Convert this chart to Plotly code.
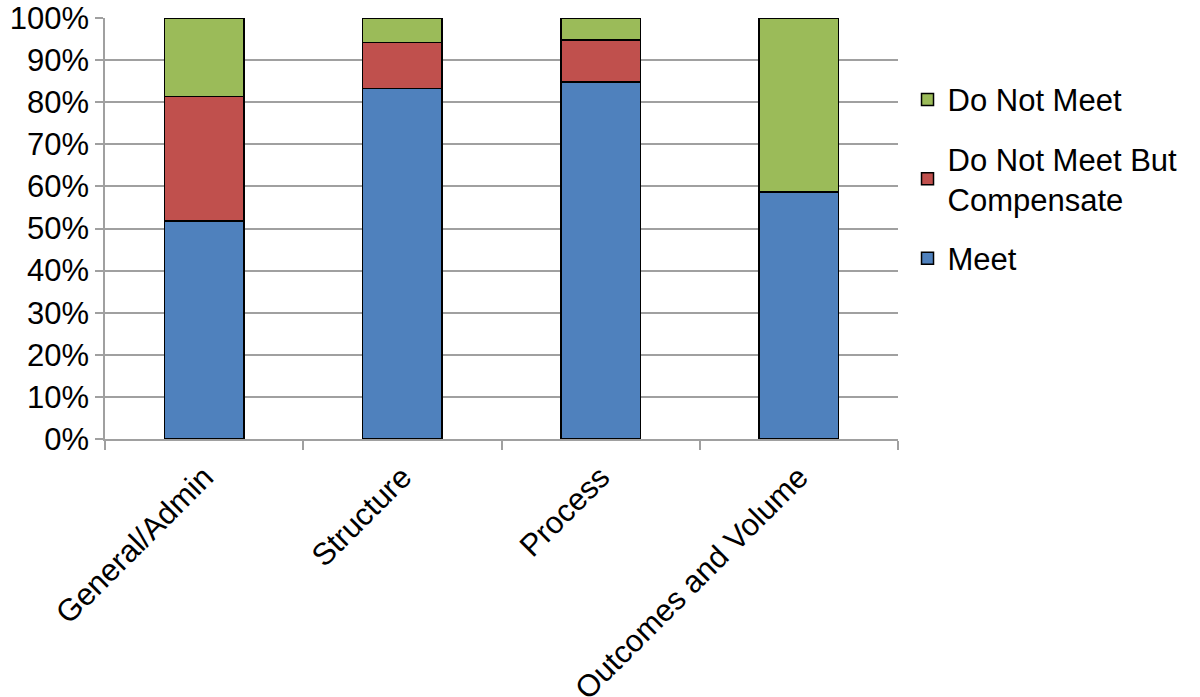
import plotly.graph_objects as go

categories = ["General/Admin", "Structure", "Process", "Outcomes and Volume"]
meet = [51.8, 83.2, 84.8, 58.7]
compensate = [29.5, 11.0, 10.0, 0.0]
do_not_meet = [18.7, 5.8, 5.2, 41.3]

series_names = ["Meet", "Do Not Meet But<br>Compensate", "Do Not Meet"]
colors = ["#4F81BD", "#C0504D", "#9BBB59"]
legend_ranks = [3, 2, 1]
y_ticks = list(range(0, 101, 10))

fig = go.Figure()
for i, (name, vals, col) in enumerate(zip(series_names, [meet, compensate, do_not_meet], colors)):
    fig.add_trace(go.Bar(
        x=categories, y=vals, name=name, legendgroup=f"g{i}", legendrank=legend_ranks[i],
        marker=dict(color=col, line=dict(color="black", width=1.5)),
        width=0.4,
    ))

fig.update_layout(
    barmode="stack",
    width=1200, height=697,
    margin=dict(l=105, r=302, t=18, b=258),
    plot_bgcolor="white", paper_bgcolor="white",
    font=dict(family="Liberation Sans, Arial, sans-serif", size=31, color="black"),
    legend=dict(traceorder="grouped", x=1.012, y=0.87, xanchor="left", yanchor="top",
                font=dict(size=31), tracegroupgap=16),
    bargap=0.6,
)
fig.update_yaxes(range=[0, 100], tickvals=y_ticks, ticktext=[f"{v}%" for v in y_ticks],
                 showgrid=True, gridcolor="#A0A0A0", gridwidth=1.5,
                 showline=True, linecolor="#A0A0A0", linewidth=1.5,
                 ticks="outside", ticklen=8, tickcolor="#A0A0A0", tickwidth=1.5,
                 zeroline=False, automargin=False)
fig.update_xaxes(tickangle=-45, showline=True, linecolor="#A0A0A0", linewidth=1.5,
                 ticks="outside", ticklen=9, tickcolor="#A0A0A0", tickwidth=1.5,
                 tickson="boundaries", showgrid=False, automargin=False,
                 ticklabelstandoff=6)

fig.write_html("out.html", config={"displayModeBar": False},
               post_script="document.body.style.margin='0px';")
